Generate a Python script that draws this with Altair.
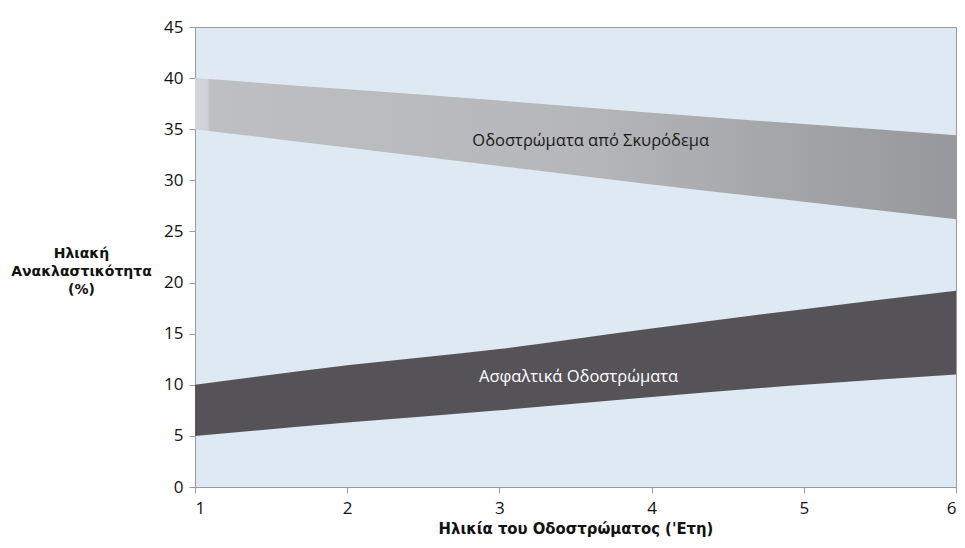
import altair as alt
import pandas as pd

years = [1, 2, 3, 4, 5, 6]
concrete_low = [35.0, 33.2, 31.4, 29.6, 27.9, 26.2]
concrete_high = [40.0, 38.9, 37.8, 36.6, 35.5, 34.4]
asphalt_low = [5.0, 6.3, 7.5, 8.8, 10.0, 11.0]
asphalt_high = [10.0, 11.9, 13.5, 15.5, 17.4, 19.2]

label_text = ["Οδοστρώματα από Σκυρόδεμα", "Ασφαλτικά Οδοστρώματα"]
label_x = [3.6, 3.52]
label_y = [33.8, 10.8]
label_color = ["#1a1a1a", "#ffffff"]

y_ticks = [0, 5, 10, 15, 20, 25, 30, 35, 40, 45]
x_ticks = [1, 2, 3, 4, 5, 6]

concrete = pd.DataFrame({"x": years, "lo": concrete_low, "hi": concrete_high})
asphalt = pd.DataFrame({"x": years, "lo": asphalt_low, "hi": asphalt_high})
labels = pd.DataFrame({"t": label_text, "x": label_x, "y": label_y, "c": label_color})

FONT = "Open Sans"

xscale = alt.Scale(domain=[1, 6], nice=False, zero=False)
yscale = alt.Scale(domain=[0, 45], nice=False)

xaxis = alt.Axis(
    values=x_ticks, title="Ηλικία του Οδοστρώματος ('Ετη)", format="d",
    labelFontSize=17, labelFont=FONT, labelColor="#111111", labelPadding=7,
    tickSize=6, tickColor="#9b9b9b", domainColor="#9b9b9b", grid=False,
    titleFont="DejaVu Sans Condensed", titleFontSize=16.5, titleFontWeight="bold",
    titleColor="#111111", titlePadding=4,
)
yaxis = alt.Axis(
    values=y_ticks, title=["Ηλιακή", "Ανακλαστικότητα", "(%)"],
    labelFontSize=17, labelFont=FONT, labelColor="#111111", labelPadding=6,
    tickSize=6, tickColor="#9b9b9b", domainColor="#9b9b9b", grid=False,
    titleFont="DejaVu Sans", titleFontSize=14, titleFontWeight="bold",
    titleColor="#111111", titleAngle=0, titleAlign="center", titleBaseline="middle",
    titleX=-114, titleY=226, titleLineHeight=18,
)

grad = alt.Gradient(
    gradient="linear",
    stops=[
        alt.GradientStop(color="#d2d3d6", offset=0),
        alt.GradientStop(color="#d2d3d6", offset=0.016),
        alt.GradientStop(color="#bebfc2", offset=0.02),
        alt.GradientStop(color="#b6b7ba", offset=0.5),
        alt.GradientStop(color="#a6a7aa", offset=0.75),
        alt.GradientStop(color="#97989c", offset=1),
    ],
    x1=0, x2=1, y1=0, y2=0,
)

c_area = alt.Chart(concrete).mark_area(color=grad, interpolate="monotone").encode(
    x=alt.X("x:Q", scale=xscale, axis=xaxis),
    y=alt.Y("lo:Q", scale=yscale, axis=yaxis),
    y2="hi:Q",
)
a_area = alt.Chart(asphalt).mark_area(color="#555358", interpolate="monotone").encode(
    x=alt.X("x:Q", scale=xscale),
    y=alt.Y("lo:Q", scale=yscale),
    y2="hi:Q",
)
txt = alt.Chart(labels).mark_text(font=FONT, fontSize=16.5, align="center", baseline="middle").encode(
    x=alt.X("x:Q", scale=xscale),
    y=alt.Y("y:Q", scale=yscale),
    text="t:N",
    color=alt.Color("c:N", scale=None),
)

chart = alt.layer(c_area, a_area, txt).properties(
    width=761, height=460,
    autosize=alt.AutoSizeParams(type="none"),
    padding={"left": 187, "top": 19, "right": 1, "bottom": 52},
    background="#ffffff",
).configure_view(fill="#dfe9f3", stroke="#9b9b9b", strokeWidth=1)

chart.save("out.html", embed_options={"renderer": "svg", "actions": False})
